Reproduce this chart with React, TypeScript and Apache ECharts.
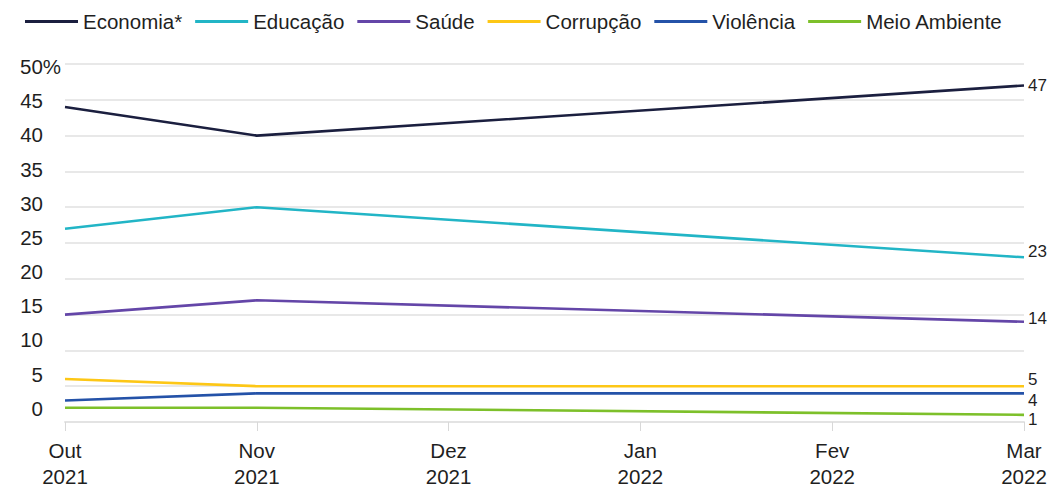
import React, { useEffect, useRef } from "react";
import * as echarts from "echarts";

const categories = ["Out\n2021", "Nov\n2021", "Dez\n2021", "Jan\n2022", "Fev\n2022", "Mar\n2022"];
const economia = [44, 40, null, null, null, 47];
const educacao = [27, 30, null, null, null, 23];
const saude = [15, 17, null, null, null, 14];
const corrupcao = [6, 5, null, null, null, 5];
const violencia = [3, 4, null, null, null, 4];
const meioAmbiente = [2, 2, null, null, null, 1];
const yTickLabels = [0, 5, 10, 15, 20, 25, 30, 35, 40, 45];

const FONT = "'Liberation Sans', Arial, sans-serif";
const TXT = "#1f1f1f";

function mk(name: string, data: (number | null)[], color: string, offset: [number, number]) {
  return {
    name,
    type: "line",
    data,
    connectNulls: true,
    symbol: "none",
    lineStyle: { color, width: 2.6 },
    itemStyle: { color },
    endLabel: {
      show: true,
      formatter: (p: any) => String(Array.isArray(p.value) ? p.value[1] : p.value),
      color: TXT,
      fontSize: 17,
      lineHeight: 16,
      fontFamily: FONT,
      distance: 4,
      offset,
    },
  };
}

export default function App() {
  const ref = useRef<HTMLDivElement>(null);
  useEffect(() => {
    document.body.style.margin = "0";
    const chart = echarts.init(ref.current!, null, { renderer: "svg" });
    chart.setOption({
      animation: false,
      textStyle: { fontFamily: FONT },
      legend: {
        left: 20,
        top: 6,
        icon: "rect",
        itemWidth: 53,
        itemHeight: 3,
        itemGap: 13,
        textStyle: { fontSize: 20.5, color: TXT, fontFamily: FONT },
        data: ["Economia*", "Educação", "Saúde", "Corrupção", "Violência", "Meio Ambiente"],
      },
      grid: { left: 65, right: 27, top: 64, bottom: 67, outerBoundsMode: "none" },
      xAxis: {
        type: "category",
        data: categories,
        boundaryGap: false,
        axisLine: { lineStyle: { color: "#e3e3e3", width: 2 } },
        axisTick: { show: true, length: 9, lineStyle: { color: "#d8d8d8", width: 1 } },
        axisLabel: { color: TXT, fontSize: 20.5, lineHeight: 26, margin: 15, fontFamily: FONT },
      },
      yAxis: [
        {
          type: "value",
          min: 0,
          max: 50,
          interval: 5,
          axisLabel: { show: false },
          axisLine: { show: false },
          axisTick: { show: false },
          splitLine: { lineStyle: { color: "#e8e8e8", width: 2 } },
        },
        {
          type: "value",
          position: "left",
          min: -2.0,
          max: 50.37,
          axisLine: { show: false },
          axisTick: { show: false },
          splitLine: { show: false },
          axisLabel: {
            customValues: yTickLabels,
            color: TXT,
            fontSize: 20.5,
            margin: 22,
            fontFamily: FONT,
          },
        },
      ],
      graphic: [
        {
          type: "text",
          left: 20,
          top: 56,
          style: { text: "50%", fontSize: 20.5, fill: TXT, fontFamily: FONT },
        },
      ],
      series: [
        mk("Economia*", economia, "#1b1f3f", [0, 0]),
        mk("Educação", educacao, "#22b5c6", [0, -6]),
        mk("Saúde", saude, "#6446a8", [0, -3]),
        mk("Corrupção", corrupcao, "#fdc716", [0, -7]),
        mk("Violência", violencia, "#2452a8", [0, 7]),
        mk("Meio Ambiente", meioAmbiente, "#7dc02a", [0, 5]),
      ],
    });
    return () => chart.dispose();
  }, []);
  return <div ref={ref} style={{ width: 1051, height: 489 }} />;
}
